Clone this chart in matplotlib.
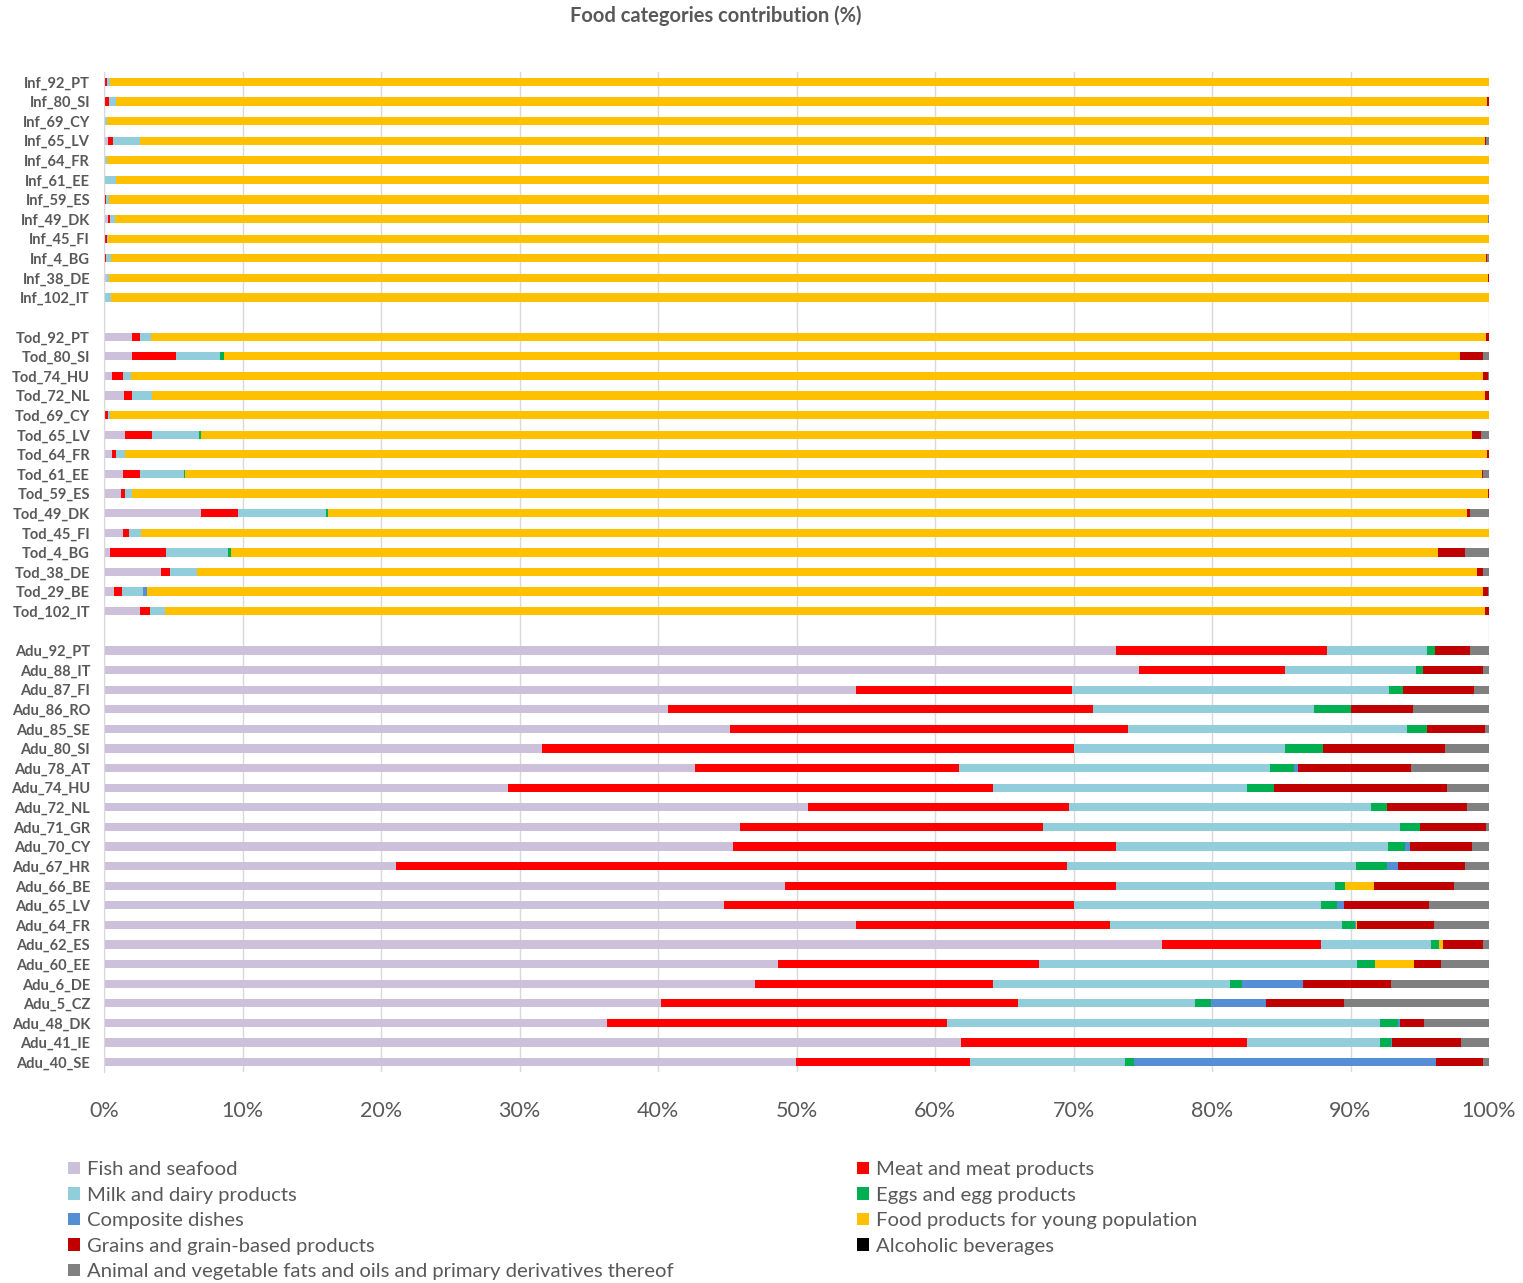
import numpy as np
import matplotlib
matplotlib.use("Agg")
import matplotlib.pyplot as plt
from matplotlib.patches import Patch

plt.rcParams['font.family'] = ['Lato', 'DejaVu Sans']

# rows, top to bottom ("" = empty gap row)
rows = ["Inf_92_PT", "Inf_80_SI", "Inf_69_CY", "Inf_65_LV", "Inf_64_FR", "Inf_61_EE",
        "Inf_59_ES", "Inf_49_DK", "Inf_45_FI", "Inf_4_BG", "Inf_38_DE", "Inf_102_IT",
        "",
        "Tod_92_PT", "Tod_80_SI", "Tod_74_HU", "Tod_72_NL", "Tod_69_CY", "Tod_65_LV",
        "Tod_64_FR", "Tod_61_EE", "Tod_59_ES", "Tod_49_DK", "Tod_45_FI", "Tod_4_BG",
        "Tod_38_DE", "Tod_29_BE", "Tod_102_IT",
        "",
        "Adu_92_PT", "Adu_88_IT", "Adu_87_FI", "Adu_86_RO", "Adu_85_SE", "Adu_80_SI",
        "Adu_78_AT", "Adu_74_HU", "Adu_72_NL", "Adu_71_GR", "Adu_70_CY", "Adu_67_HR",
        "Adu_66_BE", "Adu_65_LV", "Adu_64_FR", "Adu_62_ES", "Adu_60_EE", "Adu_6_DE",
        "Adu_5_CZ", "Adu_48_DK", "Adu_41_IE", "Adu_40_SE"]

series = ["Fish and seafood", "Meat and meat products", "Milk and dairy products",
          "Eggs and egg products", "Composite dishes", "Food products for young population",
          "Grains and grain-based products", "Alcoholic beverages",
          "Animal and vegetable fats and oils and primary derivatives thereof"]
colors = ["#CCC0DA", "#FF0000", "#92CDDC", "#00B050", "#558ED5", "#FFC000",
          "#C00000", "#000000", "#808080"]

# values per series, same order as rows (gap rows = 0)
fish = [0.07, 0.05, 0.05, 0.27, 0, 0.05, 0.05, 0.3, 0.1, 0.05, 0.2, 0.05,
        0,
        2.0, 2.0, 0.6, 1.45, 0.1, 1.5, 0.6, 1.4, 1.25, 7.0, 1.4, 0.45, 4.1, 0.7, 2.6,
        0,
        73.1, 74.7, 54.3, 40.7, 45.2, 31.6, 42.7, 29.2, 50.8, 45.9, 45.4, 21.1,
        49.2, 44.8, 54.3, 76.4, 48.7, 47.0, 40.2, 36.3, 61.9, 50.0]
meat = [0.13, 0.3, 0, 0.38, 0, 0, 0.1, 0.1, 0.1, 0.1, 0, 0,
        0,
        0.6, 3.2, 0.75, 0.55, 0.2, 2.0, 0.25, 1.2, 0.3, 2.7, 0.4, 4.05, 0.7, 0.6, 0.7,
        0,
        15.2, 10.6, 15.6, 30.7, 28.7, 38.4, 19.0, 35.0, 18.9, 21.9, 27.7, 48.4,
        23.9, 25.2, 18.3, 11.5, 18.8, 17.2, 25.8, 24.6, 20.6, 12.5]
milk = [0.2, 0.55, 0.15, 1.93, 0.2, 0.85, 0.2, 0.4, 0.1, 0.35, 0.15, 0.45,
        0,
        0.8, 3.2, 0.6, 1.5, 0.1, 3.35, 0.7, 3.15, 0.45, 6.3, 0.85, 4.45, 1.9, 1.55, 1.1,
        0,
        7.2, 9.4, 22.9, 16.0, 20.2, 15.3, 22.5, 18.3, 21.8, 25.8, 19.6, 20.9,
        15.8, 17.9, 16.8, 7.9, 23.0, 17.1, 12.8, 31.2, 9.6, 11.2]
eggs = [0, 0, 0, 0, 0, 0, 0, 0, 0, 0, 0, 0,
        0,
        0, 0.3, 0, 0, 0, 0.15, 0, 0.1, 0, 0.2, 0, 0.25, 0, 0, 0,
        0,
        0.6, 0.5, 1.0, 2.6, 1.4, 2.7, 1.7, 2.0, 1.1, 1.4, 1.2, 2.2,
        0.7, 1.1, 0.9, 0.6, 1.3, 0.9, 1.1, 1.3, 0.8, 0.7]
composite = [0, 0, 0, 0, 0, 0, 0, 0, 0, 0, 0, 0,
             0,
             0, 0, 0, 0, 0, 0, 0, 0, 0, 0, 0, 0, 0, 0.25, 0,
             0,
             0, 0, 0, 0, 0, 0, 0.3, 0, 0, 0, 0.4, 0.8,
             0, 0.5, 0.1, 0, 0, 4.4, 4.0, 0.2, 0.1, 21.8]
young = [99.6, 98.95, 99.8, 97.12, 99.8, 99.1, 99.65, 99.1, 99.7, 99.25, 99.55, 99.5,
         0,
         96.4, 89.2, 97.65, 96.2, 99.6, 91.8, 98.3, 93.65, 97.9, 82.2, 97.35, 87.1,
         92.4, 96.5, 95.3,
         0,
         0, 0, 0, 0, 0, 0, 0, 0, 0, 0, 0, 0,
         2.1, 0, 0.1, 0.3, 2.8, 0, 0, 0, 0, 0]
grains = [0, 0.15, 0, 0.1, 0, 0, 0, 0, 0, 0.1, 0.1, 0,
          0,
          0.2, 1.7, 0.3, 0.3, 0, 0.6, 0.15, 0.1, 0.1, 0.2, 0, 2.0, 0.5, 0.3, 0.3,
          0,
          2.5, 4.4, 5.1, 4.5, 4.2, 8.8, 8.2, 12.5, 5.8, 4.8, 4.5, 4.9,
          5.8, 6.2, 5.5, 2.9, 1.9, 6.3, 5.6, 1.7, 5.0, 3.4]
alcohol = [0] * 51
fats = [0, 0, 0, 0.2, 0, 0, 0, 0.1, 0, 0.15, 0, 0,
        0,
        0, 0.4, 0.1, 0, 0, 0.6, 0, 0.4, 0, 1.4, 0, 1.7, 0.4, 0.1, 0,
        0,
        1.4, 0.4, 1.1, 5.5, 0.3, 3.2, 5.6, 3.0, 1.6, 0.2, 1.2, 1.7,
        2.5, 4.3, 4.0, 0.4, 3.5, 7.1, 10.5, 4.7, 2.0, 0.4]

data = np.array([fish, meat, milk, eggs, composite, young, grains, alcohol, fats], float)
tot = data.sum(axis=0)
tot[tot == 0] = 1
data = data / tot * 100

y = np.arange(len(rows))
text_c = "#595959"

fig = plt.figure(figsize=(15.23, 12.83), dpi=100)
ax = fig.add_axes([104 / 1523, 1 - 1072 / 1283, 1385 / 1523, 1000 / 1283])

left = np.zeros(len(rows))
for vals, name, c in zip(data, series, colors):
    ax.barh(y, vals, left=left, height=0.42, color=c, linewidth=0, label=name, zorder=2)
    left += vals

ax.set_xlim(0, 100)
ax.set_ylim(len(rows) - 0.5, -0.5)
ax.set_yticks(y)
ax.set_yticklabels(rows, fontsize=10.5, fontweight="bold", color=text_c)
ax.set_xticks(np.arange(0, 101, 10))
ax.set_xticklabels([f"{v}%" for v in range(0, 101, 10)], fontsize=15.5, color=text_c)
ax.tick_params(length=0)
ax.tick_params(axis="x", pad=21)
ax.tick_params(axis="y", pad=10)
ax.grid(axis="x", color="#D9D9D9", linewidth=1, zorder=0)
ax.set_axisbelow(True)
for s in ["top", "right", "bottom"]:
    ax.spines[s].set_visible(False)
ax.spines["left"].set_color("#D9D9D9")

fig.text(716 / 1523, 1 - 16 / 1283, "Food categories contribution (%)", ha="center",
         va="center", fontsize=14.5, fontweight="bold", color=text_c)

# legend in two columns like the original
left_idx = [0, 2, 4, 6, 8]
right_idx = [1, 3, 5, 7]
for idx, x0 in [(left_idx, 60 / 1523), (right_idx, 849 / 1523)]:
    handles = [Patch(facecolor=colors[i], edgecolor="none") for i in idx]
    leg = fig.legend(handles, [series[i] for i in idx], loc="upper left",
                     bbox_to_anchor=(x0, 1 - 1153 / 1283), frameon=False,
                     fontsize=14.6, handlelength=0.6, handleheight=0.6,
                     handletextpad=0.35, labelspacing=0.42, borderaxespad=0)
    for t in leg.get_texts():
        t.set_color(text_c)

fig.savefig("out.png", dpi=100, facecolor="white")
